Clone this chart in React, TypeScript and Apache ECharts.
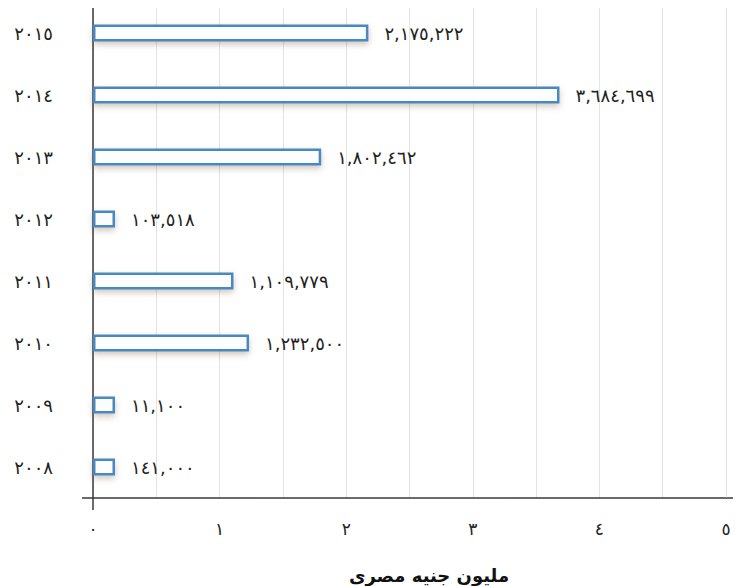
import React, { useEffect, useRef } from "react";
import * as echarts from "echarts";

const years = ["٢٠٠٨", "٢٠٠٩", "٢٠١٠", "٢٠١١", "٢٠١٢", "٢٠١٣", "٢٠١٤", "٢٠١٥"];
const values = [141000, 11100, 1232500, 1109779, 103518, 1802462, 3684699, 2175222];
const tickLabels = ["٠", "١", "٢", "٣", "٤", "٥"];
const axisTitle = "مليون جنيه مصرى";

const arabicDigits = "٠١٢٣٤٥٦٧٨٩";
const toArabic = (s: string) => s.replace(/[0-9]/g, (d) => arabicDigits[+d]);

export default function App() {
  const ref = useRef<HTMLDivElement>(null);
  useEffect(() => {
    const chart = echarts.init(ref.current!, undefined, { renderer: "svg" });
    const font = "DejaVu Sans";
    chart.setOption({
      animation: false,
      backgroundColor: "#ffffff",
      grid: { left: 93, right: 15, top: 2, bottom: 88, containLabel: false },
      xAxis: {
        type: "value",
        min: 0,
        max: 5,
        interval: 0.5,
        axisLine: { show: true, lineStyle: { color: "#3a3a3a", width: 1.5 } },
        axisTick: { show: false },
        splitLine: { show: true, lineStyle: { color: "#e3e3e3", width: 1 } },
        axisLabel: {
          margin: 22,
          color: "#222",
          fontFamily: font,
          fontSize: 17,
          formatter: (v: number) =>
            Number.isInteger(v) ? tickLabels[v] : "",
        },
      },
      yAxis: {
        type: "category",
        data: years,
        axisLine: { show: true, lineStyle: { color: "#3a3a3a", width: 1.5 } },
        axisTick: { show: false },
        axisLabel: {
          margin: 40,
          color: "#222",
          fontFamily: font,
          fontSize: 18,
        },
      },
      series: [
        {
          type: "bar",
          data: values.map((v) => v / 1000000),
          barWidth: 17,
          barMinHeight: 22,
          itemStyle: {
            color: "#fbfdff",
            borderColor: "#4a89c2",
            borderWidth: 2.5,
            shadowBlur: 6,
            shadowColor: "rgba(120,90,60,0.35)",
            shadowOffsetY: 3,
          },
          label: {
            show: true,
            position: "right",
            distance: 16,
            color: "#222",
            fontFamily: font,
            fontSize: 18,
            formatter: (p: any) =>
              toArabic(values[p.dataIndex].toLocaleString("en-US")),
          },
        },
      ],
      graphic: [
        {
          type: "line",
          shape: { x1: 82, y1: 498, x2: 93, y2: 498 },
          style: { stroke: "#3a3a3a", lineWidth: 1.5 },
        },
        {
          type: "line",
          shape: { x1: 726, y1: 498, x2: 741, y2: 498 },
          style: { stroke: "#3a3a3a", lineWidth: 1.5 },
        },
        {
          type: "line",
          shape: { x1: 93, y1: 498, x2: 93, y2: 510 },
          style: { stroke: "#3a3a3a", lineWidth: 1.5 },
        },
        {
          type: "text",
          x: 429,
          y: 575,
          style: {
            text: axisTitle,
            fontFamily: font,
            fontSize: 18,
            fontWeight: "bold",
            fill: "#111",
            align: "center",
            verticalAlign: "middle",
          },
        },
      ],
    });
    return () => chart.dispose();
  }, []);
  return <div ref={ref} style={{ width: 741, height: 586, marginLeft: -8, marginTop: -8 }} />;
}
